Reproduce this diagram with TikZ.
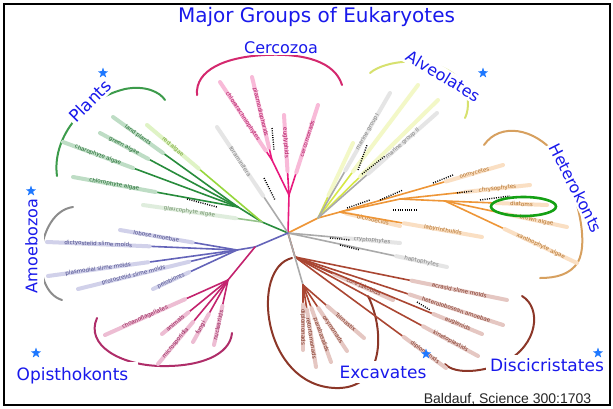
\documentclass[tikz,border=0pt]{standalone}
\usepackage{fontspec}
\setmainfont{DejaVu Sans}
\newfontfamily\baldfont{Liberation Sans}
\usetikzlibrary{calc,shapes.geometric}
\definecolor{gblue}{RGB}{25,25,235}
\definecolor{starblue}{RGB}{30,120,255}
\definecolor{dkgreen}{RGB}{40,140,60}
\definecolor{ltgreen}{RGB}{150,215,60}
\definecolor{glauc}{RGB}{150,195,140}
\definecolor{cpink}{RGB}{232,25,125}
\definecolor{tgray}{RGB}{170,170,170}
\definecolor{ayellow}{RGB}{215,232,70}
\definecolor{horange}{RGB}{238,150,55}
\definecolor{slate}{RGB}{100,100,185}
\definecolor{crimson}{RGB}{195,35,110}
\definecolor{tbrown}{RGB}{170,70,50}
\definecolor{ellgreen}{RGB}{20,160,20}
\definecolor{bgreen}{RGB}{60,155,75}
\definecolor{bpink}{RGB}{212,40,110}
\definecolor{byellow}{RGB}{215,225,110}
\definecolor{btan}{RGB}{215,160,95}
\definecolor{bgray}{RGB}{140,140,140}
\definecolor{bcrimson}{RGB}{175,45,105}
\definecolor{bbrown}{RGB}{140,55,40}
\tikzset{
  br/.style={line width=1.6pt, line cap=round},
  band/.style={line width=4pt, line cap=round},
  lf/.style={font=\fontsize{5.6}{6}\selectfont, inner sep=0pt},
  grp/.style={text=gblue, fill=white, inner sep=2pt, font=\fontsize{16}{19}\selectfont},
  bkt/.style={line width=2pt, line cap=round},
  bootdots/.style={black, line width=1.4pt, dash pattern=on 1pt off 1.3pt},
  starmark/.style={star, star points=5, star point ratio=2.5, fill=starblue, draw=none, minimum size=11pt, inner sep=0pt},
}
\newcommand\leafbr[5]{%
  \draw[br,#1] #2 -- #3;
  \draw[band,#1!30] ($#2!#5!#3$) -- #3 node[midway,sloped,lf,text=#1!75!black]{#4};}
\begin{document}
\begin{tikzpicture}[x=1pt,y=-1pt]
\useasboundingbox (0,0) rectangle (613,408);
\fill[white] (0,0) rectangle (613,408);

% brackets
\draw[bkt,bgreen] (57,176) .. controls (52,140) and (80,100) .. (125,89) .. controls (145,85) and (160,92) .. (165,100);
\draw[bkt,bpink] (197,95) .. controls (195,70) and (225,57) .. (265,55) .. controls (305,53) and (335,62) .. (342,85);
\draw[bkt,byellow] (370,73) .. controls (385,60) and (430,55) .. (455,75) .. controls (470,88) and (470,108) .. (465,118);
\draw[bkt,btan] (484,145) .. controls (500,122) and (535,128) .. (556,155) .. controls (575,185) and (590,240) .. (578,262) .. controls (570,275) and (555,278) .. (540,278);
\draw[bkt,bgray] (73,207) .. controls (36,212) and (29,290) .. (62,300);
\draw[bkt,bcrimson] (97,318) .. controls (85,345) and (120,365) .. (160,366) .. controls (200,367) and (230,355) .. (232,333);
\draw[bkt,bbrown] (292,258) .. controls (250,268) and (262,385) .. (335,388) .. controls (385,390) and (385,330) .. (368,296);
\draw[bkt,bbrown] (522,296) .. controls (542,308) and (538,345) .. (505,362) .. controls (485,372) and (455,375) .. (445,364);

% tree
\coordinate (C) at (288,233);
% Plants
\coordinate (Jpl) at (262,222);
\coordinate (Jdg) at (238,207);
\draw[br,dkgreen] (C) -- (Jpl) -- (Jdg);
\leafbr{dkgreen}{(Jdg)}{(113,117)}{land plants}{0.6}
\leafbr{dkgreen}{(Jdg)}{(100,133)}{green algae}{0.65}
\leafbr{dkgreen}{(Jdg)}{(63,142)}{charophyte algae}{0.6}
\leafbr{dkgreen}{(Jdg)}{(73,177)}{chlorophyte algae}{0.5}
\leafbr{ltgreen}{(Jpl)}{(147,125)}{red algae}{0.55}
\leafbr{glauc}{(Jpl)}{(143,205)}{glaucophyte algae}{0.22}
% Cercozoa
\coordinate (Jc1) at (289,195);
\coordinate (Jc2) at (272,160);
\draw[br,cpink] (C) -- (Jc1) -- (Jc2);
\leafbr{cpink}{(Jc2)}{(220,82)}{chlorarachniophytes}{0.12}
\leafbr{cpink}{(Jc2)}{(252,77)}{plasmodiophorids}{0.15}
\leafbr{cpink}{(Jc1)}{(284,115)}{euglyphids}{0.3}
\leafbr{cpink}{(Jc1)}{(318,105)}{cercomonads}{0.25}
\leafbr{tgray}{(C)}{(217,127)}{foraminifera}{0.35}
% Alveolates
\coordinate (Jal) at (318,218);
\coordinate (Jh) at (340,212);
\draw[br,horange] (C) -- (Jal) -- (Jh);
\leafbr{ayellow}{(Jal)}{(353,143)}{}{0.3}
\leafbr{ayellow}{(Jal)}{(418,85)}{}{0.35}
\leafbr{ayellow}{(Jal)}{(438,100)}{}{0.35}
\leafbr{tgray}{(Jal)}{(390,93)}{marine group I}{0.38}
\leafbr{tgray}{(Jal)}{(437,113)}{marine group II}{0.42}
% Heterokonts
\coordinate (Jh2) at (400,199);
\coordinate (Jh3) at (445,201);
\draw[br,horange] (Jh) -- (Jh2) -- (Jh3);
\leafbr{horange}{(Jh)}{(503,165)}{oomycetes}{0.65}
\leafbr{horange}{(Jh2)}{(530,185)}{chrysophytes}{0.5}
\leafbr{horange}{(Jh3)}{(547,205)}{diatoms}{0.5}
\leafbr{horange}{(Jh3)}{(567,227)}{brown algae}{0.5}
\leafbr{horange}{(Jh3)}{(577,263)}{xanthophyte algae}{0.45}
\leafbr{horange}{(Jh)}{(400,226)}{bicosoecids}{0.1}
\leafbr{horange}{(Jh)}{(482,237)}{labyrinthulids}{0.45}
% cryptophytes, haptophytes
\leafbr{tgray}{(C)}{(400,243)}{cryptophytes}{0.5}
\leafbr{tgray}{(C)}{(447,267)}{haptophytes}{0.68}
% Discicristates
\coordinate (Jd) at (295,257);
\draw[br,tbrown] (C) -- (Jd);
\leafbr{tbrown}{(Jd)}{(393,300)}{core jakobids}{0.4}
\leafbr{tbrown}{(Jd)}{(507,300)}{acrasid slime molds}{0.55}
\leafbr{tbrown}{(Jd)}{(503,325)}{heterolobosean amoebae}{0.55}
\leafbr{tbrown}{(Jd)}{(482,334)}{euglenids}{0.74}
\leafbr{tbrown}{(Jd)}{(478,356)}{kinetoplastids}{0.7}
\leafbr{tbrown}{(Jd)}{(446,368)}{diplonemids}{0.72}
% Excavates
\coordinate (Jex) at (303,285);
\draw[br,tgray] (C) -- (Jex);
\leafbr{tbrown}{(Jex)}{(303,350)}{diplomonads}{0.3}
\leafbr{tbrown}{(Jex)}{(316,367)}{retortamonads}{0.3}
\leafbr{tbrown}{(Jex)}{(331,362)}{parabasalids}{0.3}
\leafbr{tbrown}{(Jex)}{(347,351)}{oxymonads}{0.35}
\leafbr{tbrown}{(Jex)}{(364,338)}{Trimastix}{0.4}
% Amoebozoa and Opisthokonts
\coordinate (Jab) at (255,247);
\coordinate (Jam) at (237,250);
\coordinate (Jop) at (228,280);
\draw[br,slate] (C) -- (Jab) -- (Jam);
\draw[br,crimson] (Jab) -- (Jop);
\leafbr{slate}{(Jam)}{(120,230)}{lobose amoebae}{0.38}
\leafbr{slate}{(Jam)}{(47,242)}{dictyostelid slime molds}{0.46}
\leafbr{slate}{(Jam)}{(48,276)}{plasmodial slime molds}{0.47}
\leafbr{slate}{(Jam)}{(78,289)}{protostelid slime molds}{0.3}
\leafbr{slate}{(Jam)}{(153,289)}{pelobionts}{0.57}
\leafbr{crimson}{(Jop)}{(105,335)}{choanoflagellates}{0.35}
\leafbr{crimson}{(Jop)}{(162,334)}{animals}{0.6}
\leafbr{crimson}{(Jop)}{(158,364)}{microsporidia}{0.5}
\leafbr{crimson}{(Jop)}{(193,342)}{fungi}{0.55}
\leafbr{crimson}{(Jop)}{(214,345)}{nucleariids}{0.4}

% bootstrap dots
\draw[bootdots] (187,199) -- (217,207);
\draw[bootdots] (272,128) -- (274,150);
\draw[bootdots] (264,178) -- (275,200);
\draw[bootdots] (358,170) -- (367,145);
\draw[bootdots] (362,174) -- (385,156);
\draw[bootdots] (347,208) -- (370,200);
\draw[bootdots] (380,200) -- (403,190);
\draw[bootdots] (433,183) -- (453,175);
\draw[bootdots] (457,193) -- (473,191);
\draw[bootdots] (480,200) -- (510,196);
\draw[bootdots] (393,210) -- (418,210);
\draw[bootdots] (330,238) -- (350,240);
\draw[bootdots] (340,245) -- (360,250);
\draw[bootdots] (417,302) -- (430,310);

% diatoms ellipse
\draw[ellgreen, line width=2.6pt] (523.5,206.5) ellipse [x radius=32.5pt, y radius=9.5pt];

% labels
\node[text=gblue, font=\fontsize{20}{24}\selectfont, anchor=base, inner sep=0] (title) at (316.5,22) {Major Groups of Eukaryotes};
\node[grp, anchor=base, inner xsep=6pt] (cerc) at (281,53) {Cercozoa};
\node[grp, rotate=45, font=\fontsize{17}{20}\selectfont] (plants) at (90,101) {Plants};
\node[grp, rotate=-31] (alv) at (443,76) {Alveolates};
\node[grp, rotate=-63] (het) at (576,188) {Heterokonts};
\node[grp, rotate=90, inner ysep=6pt] (amoe) at (31.5,246) {Amoebozoa};
\node[grp, anchor=base, font=\fontsize{17}{20}\selectfont, inner xsep=10pt, inner ysep=5pt] (opis) at (72.5,380) {Opisthokonts};
\node[grp, anchor=base, font=\fontsize{17}{20}\selectfont, inner xsep=6pt, inner ysep=5pt] (exc) at (383,378) {Excavates};
\node[grp, anchor=base, font=\fontsize{17}{20}\selectfont, inner xsep=4pt, inner ysep=3pt] (disc) at (547,371) {Discicristates};
\node[anchor=base, text=black!85, font=\baldfont\fontsize{14}{16}\selectfont, inner sep=0] (cite) at (507.5,403) {Baldauf, Science 300:1703};

% stars
\node[starmark] (s1) at (103,73) {};
\node[starmark] (s2) at (31,191) {};
\node[starmark] (s3) at (483,73) {};
\node[starmark] (s4) at (36,353) {};
\node[starmark] (s5) at (426,354) {};
\node[starmark] (s6) at (598,353) {};

% frame
\draw[line width=2.6pt] (4,4) rectangle (610,405);
\end{tikzpicture}
\end{document}
